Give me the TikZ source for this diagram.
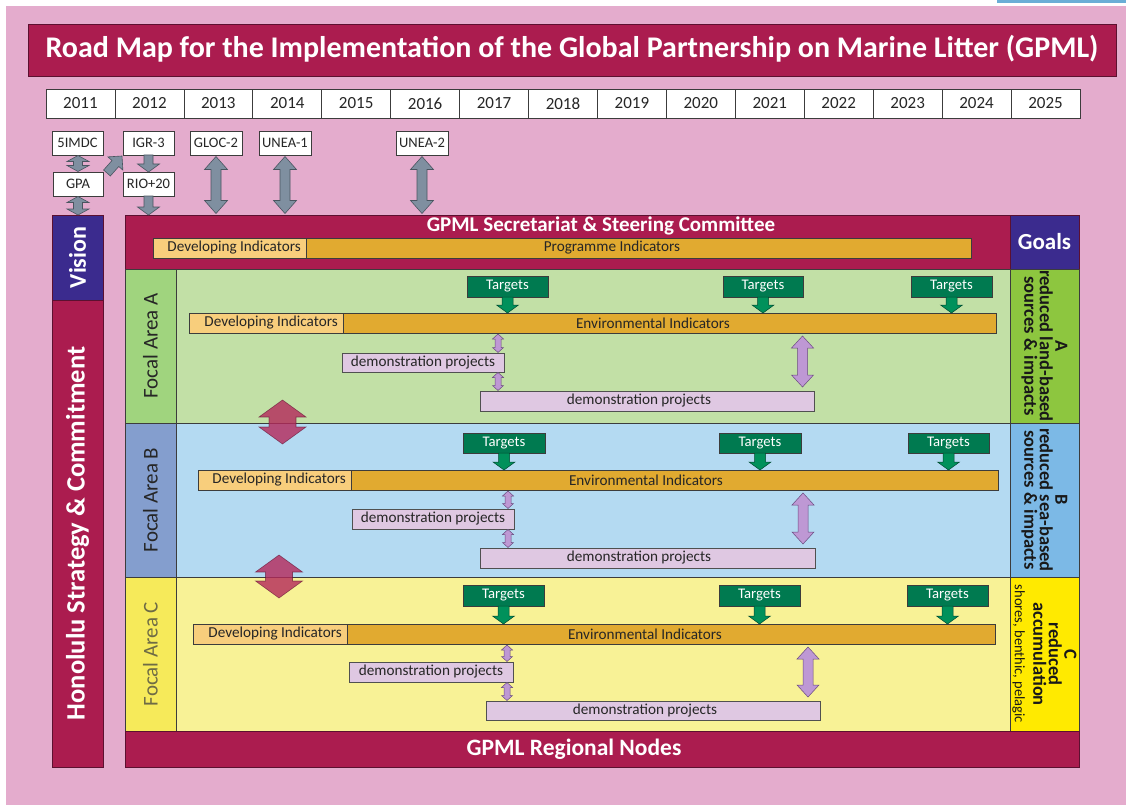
\documentclass[tikz,border=0pt]{standalone}
\usepackage{fontspec}
\setmainfont{Carlito}
\usetikzlibrary{calc}
\definecolor{pinkbg}{HTML}{E4ACCD}
\definecolor{crim}{HTML}{AB1C4F}
\definecolor{crimdk}{HTML}{5C1030}
\definecolor{vis}{HTML}{3B2B8E}
\definecolor{bord}{HTML}{3C3C3C}
\definecolor{grayar}{HTML}{7F8FA0}
\definecolor{grayardk}{HTML}{4A5560}
\definecolor{devc}{HTML}{F8CE7C}
\definecolor{envc}{HTML}{E1AA30}
\definecolor{tgtc}{HTML}{007A50}
\definecolor{tgtar}{HTML}{00915B}
\definecolor{democ}{HTML}{DFC8E2}
\definecolor{purar}{HTML}{BE98D4}
\definecolor{purardk}{HTML}{6A4A80}
\definecolor{aLab}{HTML}{A0D47E}
\definecolor{aMain}{HTML}{C2E0A6}
\definecolor{aGoal}{HTML}{8DC63F}
\definecolor{bLab}{HTML}{849ECE}
\definecolor{bMain}{HTML}{B4DAF2}
\definecolor{bGoal}{HTML}{7CB9E6}
\definecolor{cLab}{HTML}{F6EA5A}
\definecolor{cMain}{HTML}{F8F296}
\definecolor{cGoal}{HTML}{FFEA00}
\definecolor{bigar}{HTML}{B4285A}
\definecolor{topblue}{HTML}{6AAED6}
\definecolor{ctxt}{HTML}{6E6B45}

\newcommand\bx[7]{\node[#2,inner sep=0pt,outer sep=0pt,minimum width={(#5-#3)*1pt},minimum height={(#6-#4)*1pt}] (#1) at ({(#3+#5)/2},{-(#4+#6)/2}) {#7};}
% double block arrow: style, from, to, half shaft, half head, head length
\newcommand\dblar[6]{%
\coordinate (pa) at (#2); \coordinate (pb) at (#3);
\coordinate (h1) at ($(pa)!#6!(pb)$); \coordinate (h2) at ($(pb)!#6!(pa)$);
\path[#1] (pa) -- ($(h1)!#5!-90:(pb)$) -- ($(h1)!#4!-90:(pb)$) -- ($(h2)!#4!90:(pa)$) -- ($(h2)!#5!90:(pa)$) -- (pb) -- ($(h2)!#5!-90:(pa)$) -- ($(h2)!#4!-90:(pa)$) -- ($(h1)!#4!90:(pb)$) -- ($(h1)!#5!90:(pb)$) -- cycle;}
% single block arrow: style, tail, tip, half shaft, half head, head length
\newcommand\snar[6]{%
\coordinate (pa) at (#2); \coordinate (pb) at (#3);
\coordinate (h2) at ($(pb)!#6!(pa)$);
\path[#1] ($(pa)!#4!90:(pb)$) -- ($(h2)!#4!-90:(pa)$) -- ($(h2)!#5!-90:(pa)$) -- (pb) -- ($(h2)!#5!90:(pa)$) -- ($(h2)!#4!90:(pa)$) -- ($(pa)!#4!-90:(pb)$) -- cycle;}

\tikzset{
  crimbox/.style={draw=crimdk,fill=crim,line width=0.8pt},
  visbox/.style={draw=crimdk,fill=vis,line width=0.8pt},
  evbox/.style={draw=bord,fill=white,line width=0.7pt,font=\fontsize{14.5pt}{15pt}\selectfont,text=black!85},
  yearbox/.style={draw=bord,fill=white,line width=0.7pt,font=\fontsize{17pt}{18pt}\selectfont,text=black!85},
  devbox/.style={draw=bord,fill=devc,line width=0.7pt},
  envbox/.style={draw=bord,fill=envc,line width=0.7pt},
  bartext/.style={font=\fontsize{15.2pt}{16pt}\selectfont,text=black!85,inner sep=0pt},
  devtext/.style={bartext,anchor=east},
  demobox/.style={draw=bord!90,fill=democ,line width=0.7pt,font=\fontsize{15.2pt}{16pt}\selectfont,text=black!85},
  tgt/.style={draw=bord,fill=tgtc,line width=0.7pt,text=white,font=\fontsize{14.7pt}{15pt}\selectfont},
  panel/.style={draw=bord,line width=0.8pt},
  focaltext/.style={rotate=90,font=\fontsize{21pt}{22pt}\selectfont,text=black!85},
  goaltext/.style={rotate=-90,align=center,font=\bfseries\fontsize{18.5pt}{15.5pt}\selectfont,text=black!90},
  whitebold/.style={text=white,font=\bfseries#1},
  grayarrow/.style={fill=grayar,draw=grayardk,line width=0.6pt},
  greenarrow/.style={fill=tgtar,draw=tgtc!60!black,line width=0.5pt},
  purarrow/.style={fill=purar,draw=purardk,line width=0.5pt},
  bigarrow/.style={fill=bigar,fill opacity=0.8,draw=crimdk,draw opacity=0.6,line width=0.6pt},
}

\begin{document}
\begin{tikzpicture}[x=1pt,y=1pt]
\useasboundingbox (0,0) rectangle (1126,-805);
\fill[white] (0,0) rectangle (1126,-805);
\fill[pinkbg] (6,-6) rectangle (1126,-805);
\fill[topblue] (997,0) rectangle (1126,-3.5);

% title
\bx{title}{crimbox}{28}{24}{1116}{76}{}
\node[whitebold={\fontsize{30pt}{32pt}\selectfont}] (titletxt) at (572,-49) {Road Map for the Implementation of the Global Partnership on Marine Litter (GPML)};

% years
\foreach \i [evaluate=\i as \xa using 46+(\i-2011)*68.93] in {2011,...,2025}{
  \bx{yr\i}{yearbox}{\xa}{89}{\xa+68.93}{118}{\i}
}

% events
\bx{imdc}{evbox}{52}{131}{103}{155}{5IMDC}
\bx{gpa}{evbox}{53}{172}{103}{196}{GPA}
\bx{igr}{evbox}{123}{131}{174}{155}{IGR-3}
\bx{rio}{evbox}{123}{172}{174}{196}{RIO+20}
\bx{gloc}{evbox}{190}{131}{242}{155}{GLOC-2}
\bx{uneaone}{evbox}{259}{131}{311}{155}{UNEA-1}
\bx{uneatwo}{evbox}{396}{131}{448}{155}{UNEA-2}

% left column
\bx{vision}{visbox}{52}{215}{103}{300}{}
\node[rotate=90,whitebold={\fontsize{24pt}{25pt}\selectfont}] (visiontxt) at (vision) {Vision};
\bx{hono}{crimbox}{52}{300}{103}{767}{}
\node[rotate=90,whitebold={\fontsize{26.5pt}{27pt}\selectfont}] (honotxt) at (hono) {Honolulu Strategy \& Commitment};

% secretariat
\bx{sec}{crimbox}{125}{215}{1010}{269}{}
\node[whitebold={\fontsize{21pt}{22pt}\selectfont},inner sep=0pt] (sectxt) at (601,-226) {GPML Secretariat \& Steering Committee};
\bx{devS}{devbox}{153}{238}{306}{258}{}
\node[devtext] (devStxt) at ($(devS.east)+(-5,0)$) {Developing Indicators};
\bx{progS}{envbox}{306}{238}{971}{258}{}
\node[bartext] (progtxt) at (612,-248) {Programme Indicators};
\bx{goals}{visbox}{1010}{215}{1079}{269}{}
\node[whitebold={\fontsize{23pt}{24pt}\selectfont}] (goalstxt) at (goals) {Goals};

% focal area A
\bx{faL}{panel,fill=aLab}{125}{269}{176}{423}{}
\bx{faM}{panel,fill=aMain}{176}{269}{1010}{423}{}
\bx{gA}{panel,fill=aGoal}{1010}{269}{1079}{423}{}
\node[focaltext] (faLtxt) at (faL) {Focal Area A};
\node[goaltext] (gAtxt) at (gA) {A\\reduced land-based\\sources \& impacts};
\bx{tAa}{tgt}{467}{276}{548}{297}{Targets}
\bx{tAb}{tgt}{723}{276}{803}{297}{Targets}
\bx{tAc}{tgt}{911}{276}{992}{297}{Targets}
\bx{devA}{devbox}{189}{313}{343}{333}{}
\node[devtext] (devAtxt) at ($(devA.east)+(-5,0)$) {Developing Indicators};
\bx{envA}{envbox}{343}{313}{996}{333}{}
\node[bartext] (envAtxt) at (653,-323) {Environmental Indicators};
\bx{dsA}{demobox}{342}{353}{504}{372}{demonstration projects}
\bx{dbA}{demobox}{480}{391}{814}{411}{}
\node[bartext] (dbAtxt) at (639,-401) {demonstration projects};

% focal area B
\bx{fbL}{panel,fill=bLab}{125}{423}{176}{577}{}
\bx{fbM}{panel,fill=bMain}{176}{423}{1010}{577}{}
\bx{gB}{panel,fill=bGoal}{1010}{423}{1079}{577}{}
\node[focaltext] (fbLtxt) at (fbL) {Focal Area B};
\node[goaltext] (gBtxt) at (gB) {B\\reduced sea-based\\sources \& impacts};
\bx{tBa}{tgt}{463}{433}{545}{453}{Targets}
\bx{tBb}{tgt}{719}{433}{801}{453}{Targets}
\bx{tBc}{tgt}{908}{433}{989}{453}{Targets}
\bx{devB}{devbox}{198}{470}{351}{490}{}
\node[devtext] (devBtxt) at ($(devB.east)+(-5,0)$) {Developing Indicators};
\bx{envB}{envbox}{351}{470}{998}{490}{}
\node[bartext] (envBtxt) at (646,-480) {Environmental Indicators};
\bx{dsB}{demobox}{352}{509}{514}{529}{demonstration projects}
\bx{dbB}{demobox}{480}{548}{815}{568}{}
\node[bartext] (dbBtxt) at (639,-558) {demonstration projects};

% focal area C
\bx{fcL}{panel,fill=cLab}{125}{577}{176}{731}{}
\bx{fcM}{panel,fill=cMain}{176}{577}{1010}{731}{}
\bx{gC}{panel,fill=cGoal}{1010}{577}{1079}{731}{}
\node[focaltext,text=ctxt] (fcLtxt) at (fcL) {Focal Area C};
\node[goaltext] (gCtxt) at (gC) {C\\reduced\\accumulation\\[3pt]{\mdseries\fontsize{14.5pt}{15pt}\selectfont shores, benthic, pelagic}};
\bx{tCa}{tgt}{463}{585}{544}{606}{Targets}
\bx{tCb}{tgt}{719}{585}{800}{606}{Targets}
\bx{tCc}{tgt}{907}{585}{988}{606}{Targets}
\bx{devC}{devbox}{193}{624}{347}{644}{}
\node[devtext] (devCtxt) at ($(devC.east)+(-5,0)$) {Developing Indicators};
\bx{envC}{envbox}{347}{624}{995}{644}{}
\node[bartext] (envCtxt) at (645,-634) {Environmental Indicators};
\bx{dsC}{demobox}{349}{662}{513}{682}{demonstration projects}
\bx{dbC}{demobox}{486}{701}{820}{720}{}
\node[bartext] (dbCtxt) at (645,-710.5) {demonstration projects};

% regional nodes
\bx{reg}{crimbox}{125}{731}{1079}{767}{}
\node[whitebold={\fontsize{23.5pt}{24pt}\selectfont},inner sep=0pt] (regtxt) at (574,-749) {GPML Regional Nodes};

% gray arrows (events)
\dblar{grayarrow}{$(imdc.south)+(0.5,-0.5)$}{$(gpa.north)+(0,0.5)$}{4.5pt}{11pt}{6pt}
\dblar{grayarrow}{$(gpa.south)+(0,-0.5)$}{gpa.south |- vision.north}{4.5pt}{11pt}{6pt}
\snar{grayarrow}{igr.south}{rio.north}{4.5pt}{11pt}{8pt}
\snar{grayarrow}{rio.south}{rio.south |- sec.north}{4.5pt}{11pt}{8pt}
\snar{grayarrow}{$(gpa.north east)+(4,-1)$}{$(igr.south west)+(-1,-1)$}{4.5pt}{10pt}{10pt}
\dblar{grayarrow}{$(gloc.south)+(0,-1.5)$}{$(gloc.south |- sec.north)+(0,1.5)$}{5pt}{11.5pt}{13pt}
\dblar{grayarrow}{$(uneaone.south)+(0,-1.5)$}{$(uneaone.south |- sec.north)+(0,1.5)$}{5pt}{11.5pt}{13pt}
\dblar{grayarrow}{$(uneatwo.south)+(0,-1.5)$}{$(uneatwo.south |- sec.north)+(0,1.5)$}{5pt}{11.5pt}{13pt}

% target arrows
\foreach \t/\e in {tAa/envA,tAb/envA,tAc/envA,tBa/envB,tBb/envB,tBc/envB,tCa/envC,tCb/envC,tCc/envC}{
  \snar{greenarrow}{\t.south}{\t.south |- \e.north}{5.5pt}{11pt}{8pt}
}

% small purple arrows
\foreach \s/\e/\b in {dsA/envA/dbA,dsB/envB/dbB,dsC/envC/dbC}{
  \coordinate (sx) at ($(\s.north east)+(-6,0)$);
  \dblar{purarrow}{$(sx |- \e.south)+(0,-1)$}{$(sx)+(0,0.5)$}{3pt}{5.5pt}{5pt}
  \coordinate (sy) at ($(\s.south east)+(-6,0)$);
  \dblar{purarrow}{$(sy)+(0,-0.5)$}{$(sy |- \b.north)+(0,0.5)$}{3pt}{5.5pt}{5pt}
}

% big purple arrows
\foreach \b/\e/\o in {dbA/envA/11.5,dbB/envB/12,dbC/envC/12}{
  \coordinate (bx) at ($(\b.north east)+(-\o,0)$);
  \dblar{purarrow}{$(bx |- \e.south)+(0,-3)$}{$(bx)+(0,4)$}{5pt}{11pt}{12pt}
}

% big crimson arrows between focal areas
\coordinate (abtop) at (282.5,-400);
\coordinate (abbot) at (282.5,-444);
\coordinate (bctop) at (279,-555);
\coordinate (bcbot) at (279,-598);
\dblar{bigarrow}{abtop}{abbot}{13.5pt}{23.5pt}{17pt}
\dblar{bigarrow}{bctop}{bcbot}{13.5pt}{23.5pt}{17pt}
\end{tikzpicture}
\end{document}
